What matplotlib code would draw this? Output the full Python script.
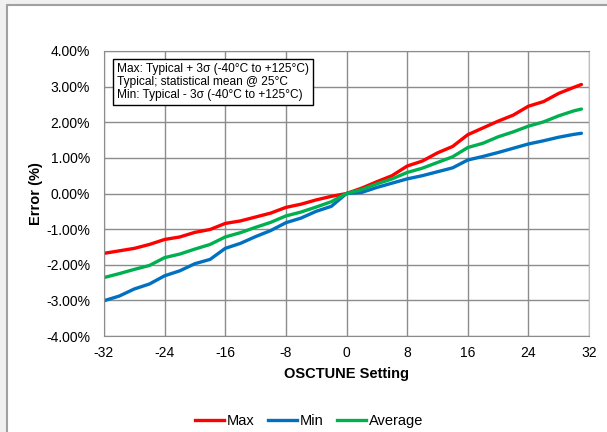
import matplotlib
matplotlib.use("Agg")
import matplotlib.pyplot as plt
from matplotlib.patches import Rectangle
from matplotlib.lines import Line2D
from matplotlib.ticker import FuncFormatter

plt.rcParams['font.family'] = ['Liberation Sans', 'DejaVu Sans']
plt.rcParams['axes.unicode_minus'] = False

osctune = [-32, -30, -28, -26, -24, -22, -20, -18, -16, -14, -12, -10, -8, -6, -4, -2,
           0, 2, 4, 6, 8, 10, 12, 14, 16, 18, 20, 22, 24, 26, 28, 30, 31]
err_max = [-1.68, -1.61, -1.54, -1.43, -1.29, -1.22, -1.09, -1.01, -0.84, -0.77, -0.66, -0.55,
           -0.39, -0.30, -0.18, -0.08, 0.00, 0.15, 0.33, 0.50, 0.77, 0.91, 1.14, 1.32,
           1.65, 1.84, 2.03, 2.20, 2.45, 2.58, 2.81, 2.98, 3.06]
err_min = [-3.01, -2.88, -2.68, -2.54, -2.31, -2.17, -1.97, -1.85, -1.54, -1.40, -1.21, -1.04,
           -0.82, -0.69, -0.50, -0.36, 0.00, 0.03, 0.17, 0.29, 0.41, 0.50, 0.61, 0.72,
           0.94, 1.04, 1.15, 1.27, 1.39, 1.48, 1.58, 1.66, 1.69]
err_avg = [-2.36, -2.25, -2.13, -2.02, -1.80, -1.70, -1.56, -1.43, -1.22, -1.10, -0.95, -0.81,
           -0.63, -0.52, -0.38, -0.23, 0.00, 0.11, 0.27, 0.41, 0.59, 0.71, 0.87, 1.03,
           1.29, 1.41, 1.59, 1.73, 1.89, 2.01, 2.18, 2.32, 2.37]
x_ticks = [-32, -24, -16, -8, 0, 8, 16, 24, 32]
y_ticks = [-4, -3, -2, -1, 0, 1, 2, 3, 4]

W, H = 607, 432
fig = plt.figure(figsize=(W / 100, H / 100), dpi=100, facecolor='#f0f0f0')
# white panel with border
fig.patches.append(Rectangle((7 / W, -0.1), 1.2, 1 - 5 / H + 0.1, transform=fig.transFigure,
                             facecolor='white', edgecolor='#a0a0a0', linewidth=1.5, zorder=-10))

ax = fig.add_axes([104 / W, 1 - 336 / H, (589 - 104) / W, (336 - 51) / H])
ax.set_zorder(5)
ax.set_facecolor('white')

ax.plot(osctune, err_max, color='#ff0000', lw=2.4, solid_joinstyle='round', solid_capstyle='round')
ax.plot(osctune, err_min, color='#0070c0', lw=2.4, solid_joinstyle='round', solid_capstyle='round')
ax.plot(osctune, err_avg, color='#00b050', lw=2.4, solid_joinstyle='round', solid_capstyle='round')

ax.set_xlim(-32, 32)
ax.set_ylim(-4, 4)
ax.set_xticks(x_ticks)
ax.set_yticks(y_ticks)
ax.yaxis.set_major_formatter(FuncFormatter(lambda v, p: f"{v:.2f}%"))
ax.grid(True, color='#8c8c8c', linewidth=1)
ax.set_axisbelow(True)
ax.tick_params(length=0, labelsize=10, colors='black')
ax.tick_params(axis='y', pad=10)
ax.tick_params(axis='x', pad=7)
for s in ['left', 'bottom', 'top']:
    ax.spines[s].set_color('#8c8c8c')
ax.spines['right'].set_color('#bfbfbf')

ax.set_xlabel('OSCTUNE Setting', fontsize=10.5, fontweight='bold', labelpad=5)
ax.set_ylabel('Error (%)', fontsize=10.5, fontweight='bold', labelpad=2)

ax.text(0.027, 0.958,
        "Max: Typical + 3σ (-40°C to +125°C)\nTypical; statistical mean @ 25°C\nMin: Typical - 3σ (-40°C to +125°C)",
        transform=ax.transAxes, fontsize=8.6, va='top', ha='left', linespacing=1.12,
        bbox=dict(boxstyle='square,pad=0.35', facecolor='white', edgecolor='black', linewidth=1))

handles = [Line2D([], [], color='#ff0000', lw=2.4),
           Line2D([], [], color='#0070c0', lw=2.4),
           Line2D([], [], color='#00b050', lw=2.4)]
fig.legend(handles, ['Max', 'Min', 'Average'], loc='center', bbox_to_anchor=(309 / W, 1 - 421 / H),
           ncol=3, frameon=False, fontsize=10.5, handlelength=2.0, handletextpad=0.2, columnspacing=0.9)

fig.savefig('out.png', dpi=100, facecolor=fig.get_facecolor())
